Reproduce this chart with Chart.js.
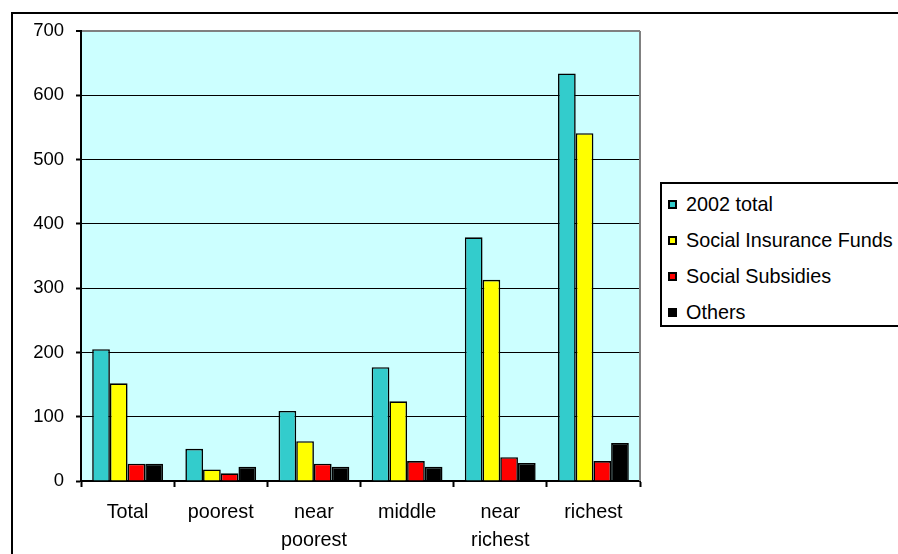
<!DOCTYPE html>
<html>
<head>
<meta charset="utf-8">
<script src="https://cdn.jsdelivr.net/npm/chart.js@4/dist/chart.umd.min.js"></script>
<style>
  html, body { margin:0; padding:0; width:898px; height:554px; overflow:hidden; background:#fff; }
  #frame { position:absolute; left:11px; top:12px; width:1000px; height:1000px; border:2px solid #000; box-sizing:border-box; }
  #wrap { position:absolute; left:0; top:0; width:898px; height:554px; }
  #legend { position:absolute; left:660px; top:182px; width:400px; height:145px; border:2px solid #000; box-sizing:border-box; background:#fff;
    font-family:"Liberation Sans", Arial, sans-serif; font-size:19.8px; color:#000; }
  .item { position:absolute; left:0; height:24px; line-height:24px; white-space:nowrap; }
  .sw { position:absolute; left:6px; top:8px; width:9px; height:9px; border:2px solid #000; box-sizing:border-box; }
  .lbl { position:absolute; left:24px; top:0; }
</style>
</head>
<body>
<div id="frame"></div>
<div id="wrap"><canvas id="c" width="898" height="554"></canvas></div>
<div id="legend"></div>
<script>
const categories = ['Total', 'poorest', ['near', 'poorest'], 'middle', ['near', 'richest'], 'richest'];
const seriesNames = ['2002 total', 'Social Insurance Funds', 'Social Subsidies', 'Others'];
const total2002 = [205, 50, 109, 177, 379, 634];
const socialInsuranceFunds = [152, 18, 62, 124, 313, 541];
const socialSubsidies = [27, 12, 27, 31, 37, 31];
const others = [27, 22, 22, 22, 28, 59];
const yTicks = [0, 100, 200, 300, 400, 500, 600, 700];
const colors = ['#33CCCC', '#FFFF00', '#FF0000', '#000000'];

const seriesValues = [total2002, socialInsuranceFunds, socialSubsidies, others];
const FONT = '"Liberation Sans", Arial, sans-serif';

const plotBg = {
  id: 'plotBg',
  beforeDraw(chart) {
    const a = chart.chartArea, ctx = chart.ctx;
    ctx.save();
    ctx.fillStyle = '#CCFFFF';
    ctx.fillRect(a.left, a.top, a.right - a.left, a.bottom - a.top);
    ctx.restore();
  },
  afterDraw(chart) {
    const a = chart.chartArea, ctx = chart.ctx;
    ctx.save();
    ctx.strokeStyle = '#808080';
    ctx.lineWidth = 2;
    ctx.beginPath();
    ctx.moveTo(a.right, a.top);
    ctx.lineTo(a.right, a.bottom);
    ctx.stroke();
    ctx.restore();
  }
};

new Chart(document.getElementById('c'), {
  type: 'bar',
  data: {
    labels: categories,
    datasets: seriesNames.map((n, i) => ({
      label: n,
      data: seriesValues[i],
      backgroundColor: colors[i],
      borderColor: '#000',
      borderWidth: 1.6,
      barPercentage: 1,
      categoryPercentage: 0.76
    }))
  },
  options: {
    responsive: false,
    animation: false,
    devicePixelRatio: 1,
    layout: { padding: { left: 0, top: 31, right: 258, bottom: 0 } },
    plugins: { legend: { display: false }, tooltip: { enabled: false } },
    scales: {
      x: {
        afterFit(s) { s.height = 73; },
        grid: { offset: true, drawOnChartArea: false, drawTicks: true, tickLength: 6, tickColor: '#000', tickWidth: 2 },
        border: { color: '#000', width: 2 },
        ticks: { color: '#000', padding: 11, maxRotation: 0, autoSkip: false,
          font: { family: FONT, size: 19.8, lineHeight: 1.42 } }
      },
      y: {
        min: 0, max: 700,
        afterFit(s) { s.width = 81; },
        afterBuildTicks(s) { s.ticks = yTicks.map(v => ({ value: v })); },
        grid: { color: ctx => (ctx.tick && ctx.tick.value === 700 ? '#808080' : '#000'),
          lineWidth: ctx => (ctx.tick && ctx.tick.value === 700 ? 2 : 1),
          tickColor: '#000', tickLength: 5, tickWidth: 2, drawTicks: true },
        border: { color: '#000', width: 2 },
        ticks: { color: '#000', padding: 12, font: { family: FONT, size: 18.5 } }
      }
    }
  },
  plugins: [plotBg]
});

const legend = document.getElementById('legend');
seriesNames.forEach((n, i) => {
  const it = document.createElement('div');
  it.className = 'item';
  it.style.top = (8 + i * 36) + 'px';
  const sw = document.createElement('div');
  sw.className = 'sw';
  sw.style.background = colors[i];
  const lb = document.createElement('div');
  lb.className = 'lbl';
  lb.textContent = n;
  it.appendChild(sw); it.appendChild(lb);
  legend.appendChild(it);
});
</script>
</body>
</html>
